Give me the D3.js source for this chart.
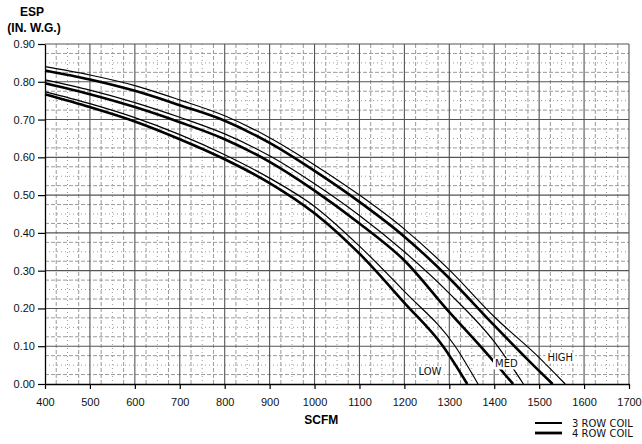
<!DOCTYPE html>
<html>
<head>
<meta charset="utf-8">
<script src="https://cdn.jsdelivr.net/npm/d3@7"></script>
<style>
  body { margin: 0; background: #fff; }
  svg { display: block; }
</style>
</head>
<body>
<div id="chart"></div>
<script>
// tick labels
const xTicks = [400, 500, 600, 700, 800, 900, 1000, 1100, 1200, 1300, 1400, 1500, 1600, 1700];
const yTicks = [0, 0.1, 0.2, 0.3, 0.4, 0.5, 0.6, 0.7, 0.8, 0.9];

// [SCFM, ESP]
const high3 = [[400, .840], [500, .818], [600, .790], [700, .752], [800, .710], [900, .652], [1000, .580], [1100, .500], [1200, .410], [1300, .302], [1400, .178], [1500, .070], [1558, 0]];
const high4 = [[400, .830], [500, .806], [600, .776], [700, .738], [800, .697], [900, .638], [1000, .564], [1100, .482], [1200, .390], [1300, .280], [1400, .155], [1470, .070], [1530, 0]];
const med3 = [[400, .805], [500, .778], [600, .745], [700, .706], [800, .662], [900, .604], [1000, .530], [1100, .446], [1200, .350], [1300, .240], [1400, .112], [1465, 0]];
const med4 = [[400, .796], [500, .767], [600, .733], [700, .693], [800, .648], [900, .588], [1000, .512], [1100, .425], [1200, .327], [1300, .190], [1369, .10], [1442, 0]];
const low3 = [[400, .774], [500, .742], [600, .705], [700, .660], [800, .607], [900, .545], [1000, .470], [1100, .365], [1200, .245], [1313, .10], [1364, 0]];
const low4 = [[400, .767], [500, .733], [600, .695], [700, .648], [800, .595], [900, .532], [1000, .452], [1100, .345], [1200, .215], [1286, .10], [1340, 0]];

const curves = [
    { speed: "HIGH", coil: 3, values: high3 },
    { speed: "HIGH", coil: 4, values: high4 },
    { speed: "MED", coil: 3, values: med3 },
    { speed: "MED", coil: 4, values: med4 },
    { speed: "LOW", coil: 3, values: low3 },
    { speed: "LOW", coil: 4, values: low4 }
];

// speed labels: where they sit on the chart, in data units
const speedLabels = [
    { text: "LOW", scfm: 1257, esp: 0.032 },
    { text: "MED", scfm: 1427, esp: 0.053 },
    { text: "HIGH", scfm: 1547, esp: 0.069 }
];

const legendItems = [
    { text: "3 ROW COIL", coil: 3 },
    { text: "4 ROW COIL", coil: 4 }
];

const width = 642, height = 444;
const margin = { top: 44, right: 13, bottom: 60, left: 45 };
const innerW = width - margin.left - margin.right;
const innerH = height - margin.top - margin.bottom;

const strokeW = { 3: 1.2, 4: 2.6 };

const svg = d3.select("#chart")
    .append("svg")
    .attr("width", width)
    .attr("height", height)
    .style("background", "#fff");

const g = svg.append("g")
    .attr("transform", `translate(${margin.left},${margin.top})`);

const x = d3.scaleLinear().domain([400, 1700]).range([0, innerW]);
const y = d3.scaleLinear().domain([0, 0.9]).range([innerH, 0]);

// minor grid: every 25 SCFM / 0.025 in.
const grid = g.append("g");
d3.range(425, 1700, 25).filter(v => v % 100 !== 0).forEach(v => {
    grid.append("line")
        .attr("x1", x(v)).attr("x2", x(v))
        .attr("y1", 0).attr("y2", innerH)
        .attr("stroke", "#9a9a9a")
        .attr("stroke-width", 1)
        .attr("stroke-dasharray", v % 50 === 0 ? "1,3" : "4,2");
});
d3.range(1, 36).filter(i => i % 4 !== 0).forEach(i => {
    const v = i * 0.025;
    grid.append("line")
        .attr("x1", 0).attr("x2", innerW)
        .attr("y1", y(v)).attr("y2", y(v))
        .attr("stroke", "#9a9a9a")
        .attr("stroke-width", 1)
        .attr("stroke-dasharray", i % 2 === 0 ? "1,3" : "4,2");
});

// major grid
xTicks.slice(1).forEach(v => {
    grid.append("line")
        .attr("x1", x(v)).attr("x2", x(v))
        .attr("y1", 0).attr("y2", innerH)
        .attr("stroke", "#555")
        .attr("stroke-width", 1.1);
});
yTicks.slice(1).forEach(v => {
    grid.append("line")
        .attr("x1", 0).attr("x2", innerW)
        .attr("y1", y(v)).attr("y2", y(v))
        .attr("stroke", "#555")
        .attr("stroke-width", 1.1);
});

const line = d3.line()
    .x(d => x(d[0]))
    .y(d => y(d[1]))
    .curve(d3.curveMonotoneX);

g.selectAll(".curve")
    .data(curves)
    .enter()
    .append("path")
    .attr("class", "curve")
    .attr("d", d => line(d.values))
    .attr("fill", "none")
    .attr("stroke", "#000")
    .attr("stroke-width", d => strokeW[d.coil])
    .attr("stroke-linejoin", "round");

// speed labels with white boxes behind them
const lab = g.selectAll(".speed")
    .data(speedLabels)
    .enter()
    .append("g")
    .attr("class", "speed")
    .attr("transform", d => `translate(${x(d.scfm)},${y(d.esp)})`);

lab.append("text")
    .attr("text-anchor", "middle")
    .attr("dy", "0.35em")
    .style("font-family", "DejaVu Sans, sans-serif")
    .style("font-size", "10px")
    .attr("fill", "#111")
    .text(d => d.text);

lab.each(function () {
    const t = d3.select(this).select("text");
    const b = t.node().getBBox();
    d3.select(this).insert("rect", "text")
        .attr("x", b.x - 2).attr("y", b.y)
        .attr("width", b.width + 4).attr("height", b.height)
        .attr("fill", "#fff");
});

// axes
const yAxis = g.append("g")
    .call(d3.axisLeft(y).tickValues(yTicks).tickFormat(d3.format(".2f")).tickSize(7).tickSizeOuter(0).tickPadding(3));
const xAxis = g.append("g")
    .attr("transform", `translate(0,${innerH})`)
    .call(d3.axisBottom(x).tickValues(xTicks).tickFormat(d3.format("d")).tickSize(5).tickSizeOuter(0).tickPadding(9));

[yAxis, xAxis].forEach(a => {
    a.select(".domain").attr("stroke", "#000").attr("stroke-width", 1.3);
    a.selectAll(".tick line").attr("stroke", "#000").attr("stroke-width", 1.2);
    a.selectAll("text")
        .style("font-family", "Liberation Sans, Arial, sans-serif")
        .style("font-size", "11px")
        .attr("fill", "#111");
});

// titles
svg.append("text")
    .attr("x", 32).attr("y", 16)
    .attr("text-anchor", "middle")
    .style("font-family", "Liberation Sans, Arial, sans-serif")
    .style("font-size", "12px")
    .style("font-weight", "bold")
    .text("ESP");

svg.append("text")
    .attr("x", 34).attr("y", 32)
    .attr("text-anchor", "middle")
    .style("font-family", "Liberation Sans, Arial, sans-serif")
    .style("font-size", "12px")
    .style("font-weight", "bold")
    .text("(IN. W.G.)");

svg.append("text")
    .attr("x", margin.left + x(1015)).attr("y", 424)
    .attr("text-anchor", "middle")
    .style("font-family", "Liberation Sans, Arial, sans-serif")
    .style("font-size", "12px")
    .style("font-weight", "bold")
    .text("SCFM");

// legend
const legend = svg.append("g")
    .attr("transform", `translate(535, 423)`);

const li = legend.selectAll(".legend-item")
    .data(legendItems)
    .enter()
    .append("g")
    .attr("class", "legend-item")
    .attr("transform", (d, i) => `translate(0, ${i * 10})`);

li.append("line")
    .attr("x1", 0).attr("x2", 27)
    .attr("stroke", "#000")
    .attr("stroke-width", d => d.coil === 3 ? 2 : 2.8);

li.append("text")
    .attr("x", 37)
    .attr("dy", "0.35em")
    .style("font-family", "DejaVu Sans, sans-serif")
    .style("font-size", "10px")
    .attr("fill", "#111")
    .text(d => d.text);
</script>
</body>
</html>
